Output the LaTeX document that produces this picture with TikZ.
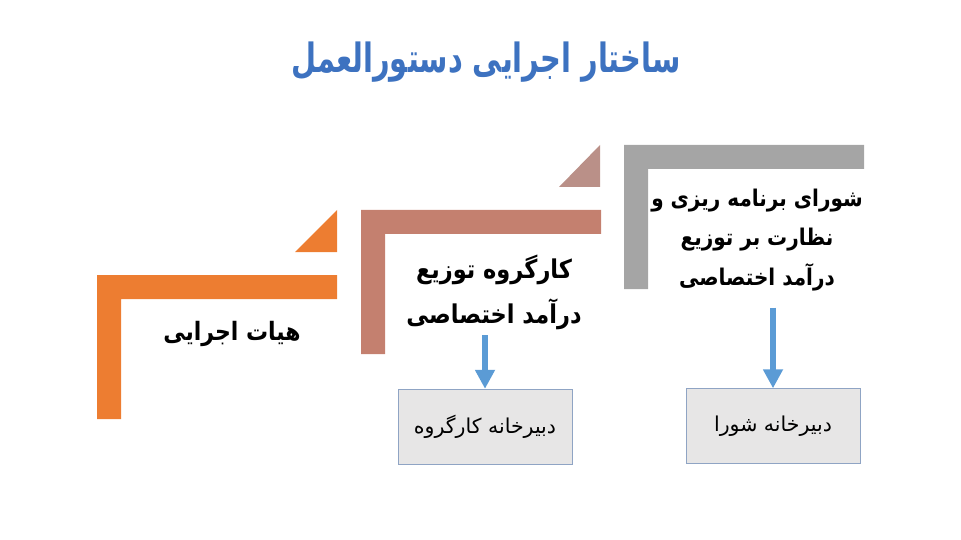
\documentclass[tikz,border=0pt]{standalone}
\usepackage{fontspec}
\newfontfamily\farsi[Script=Arabic]{DejaVu Sans}
\TeXXeTstate=1
\usetikzlibrary{arrows.meta}

\definecolor{orangebar}{HTML}{ED7D31}
\definecolor{rosebar}{HTML}{C4806F}
\definecolor{rosetri}{HTML}{BA9088}
\definecolor{greybar}{HTML}{A5A5A5}
\definecolor{boxfill}{HTML}{E7E6E6}
\definecolor{boxline}{HTML}{8FA4C4}
\definecolor{arrowblue}{HTML}{5B9BD5}
\definecolor{titleblue}{HTML}{3D72C0}

\newcommand{\rl}[1]{\beginR #1\endR}

\begin{document}
\begin{tikzpicture}[x=1pt,y=-1pt,
  title/.style={text=titleblue, xscale=0.93, yscale=1.3,
    font=\farsi\bfseries\fontsize{31}{36}\selectfont},
  level/.style={align=center, yscale=1.15, font=\farsi\bfseries\fontsize{22}{35}\selectfont},
  office/.style={draw=boxline, fill=boxfill, minimum width=174pt, minimum height=75pt,
    font=\farsi\fontsize{20.5}{24}\selectfont},
  flowarrow/.style={draw=arrowblue, line width=6.5pt, -{Triangle[length=19pt,width=19pt]}}]
\def\barlen{240}
\def\barhgt{144}
\def\barthk{24}

\useasboundingbox (0,0) rectangle (961,540);

% Title
\node[title] (head) at (486,62) {\rl{ساختار اجرایی دستورالعمل}};

% Steps
\foreach \x/\y/\c in {97/275/orangebar, 361/210/rosebar, 624/145/greybar}
  \fill[\c] (\x,\y) -- ++(\barlen,0) -- ++(0,\barthk) -- ++(\barthk-\barlen,0)
    -- ++(0,\barhgt-\barthk) -- ++(-\barthk,0) -- cycle;
\fill[orangebar] (295,252) -- (337,210) -- (337,252) -- cycle;
\fill[rosetri] (559,187) -- (600,145) -- (600,187) -- cycle;

% Levels
\node[level] (exec) at (232,334) {\rl{هیات اجرایی}};
\node[level, font=\farsi\bfseries\fontsize{22.5}{39}\selectfont] (group) at (494,292)
  {\rl{کارگروه توزیع}\\\rl{درآمد اختصاصی}};
\node[level, font=\farsi\bfseries\fontsize{20}{34}\selectfont] (council) at (757,240)
  {\rl{شورای برنامه ریزی و}\\\rl{نظارت بر توزیع}\\\rl{درآمد اختصاصی}};

% Secretariats
\node[office] (groupsec) at (485,426.5) {\rl{دبیرخانه کارگروه}};
\node[office] (councilsec) at (773,426) {\rl{دبیرخانه شورا}};

\draw[flowarrow, shorten <=2pt] (groupsec.north |- group.south) -- (groupsec.north);
\draw[flowarrow, shorten <=13pt] (councilsec.north |- council.south) -- (councilsec.north);

\end{tikzpicture}
\end{document}
